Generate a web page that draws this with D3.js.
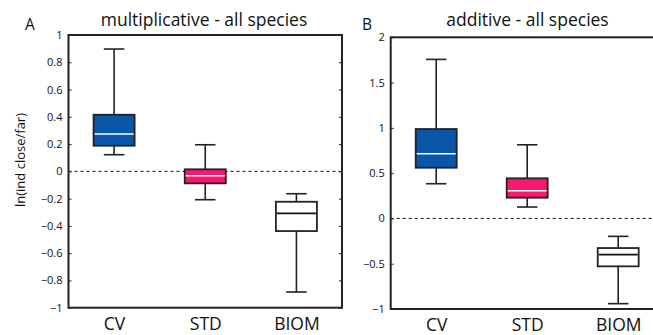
<!DOCTYPE html>
<html><head><meta charset="utf-8">
<script src="https://cdn.jsdelivr.net/npm/d3@7"></script>
<style>
html,body{margin:0;padding:0;background:#fff;overflow:hidden}
text{font-family:"Open Sans",sans-serif;fill:#111}
</style></head>
<body><svg id="c" width="653" height="335"></svg>
<script>
const categories = ["CV","STD","BIOM"];
const boxColors = ["#0a56a8","#f7186f","#ffffff"];
const medianColors = ["#ffffff","#ffffff","#111111"];
// [whiskerLow, q1, median, q3, whiskerHigh]
const multiplicative = [
  [0.122, 0.188, 0.274, 0.415, 0.897],
  [-0.208, -0.088, -0.032, 0.015, 0.195],
  [-0.885, -0.438, -0.308, -0.223, -0.164]
];
const additive = [
  [0.383, 0.56, 0.714, 0.987, 1.756],
  [0.126, 0.229, 0.306, 0.443, 0.813],
  [-0.941, -0.529, -0.4, -0.327, -0.198]
];
const ticksA = [-1,-0.8,-0.6,-0.4,-0.2,0,0.2,0.4,0.6,0.8,1];
const ticksB = [-1,-0.5,0,0.5,1,1.5,2];
const titles = ["multiplicative - all species","additive - all species"];
const panelLetters = ["A","B"];
const yLabel = "ln(ind close/far)";

const svg = d3.select("#c");
const fmt = v => (v<0?"\u2212":"") + String(Math.abs(v));

function panel(cfg){
  const g = svg.append("g");
  const x = d3.scaleLinear().domain([0.5,3.5]).range([cfg.x0,cfg.x1]);
  const y = d3.scaleLinear().domain(cfg.domain).range([cfg.y1,cfg.y0]);
  const bw = x(1.225)-x(1);
  g.append("line").attr("x1",cfg.x0).attr("x2",cfg.x1).attr("y1",y(0)).attr("y2",y(0))
    .attr("stroke","#111").attr("stroke-width",1).attr("stroke-dasharray","3,3");
  cfg.data.forEach((d,i)=>{
    const cx = x(i+1);
    const bg = g.append("g");
    bg.append("line").attr("x1",cx).attr("x2",cx).attr("y1",y(d[0])).attr("y2",y(d[1])).attr("stroke","#222").attr("stroke-width",1.6);
    bg.append("line").attr("x1",cx).attr("x2",cx).attr("y1",y(d[3])).attr("y2",y(d[4])).attr("stroke","#222").attr("stroke-width",1.6);
    [d[0],d[4]].forEach(v=>bg.append("line").attr("x1",cx-bw/2).attr("x2",cx+bw/2).attr("y1",y(v)).attr("y2",y(v)).attr("stroke","#222").attr("stroke-width",1.6));
    bg.append("rect").attr("x",cx-bw).attr("width",2*bw).attr("y",y(d[3])).attr("height",y(d[1])-y(d[3]))
      .attr("fill",boxColors[i]).attr("stroke","#222").attr("stroke-width",1.8);
    bg.append("line").attr("x1",cx-bw+1).attr("x2",cx+bw-1).attr("y1",y(d[2])).attr("y2",y(d[2])).attr("stroke",medianColors[i]).attr("stroke-width",1.6);
  });
  const axL = d3.axisLeft(y).tickValues(cfg.ticks).tickFormat(fmt).tickSize(-3).tickPadding(6);
  const gl = g.append("g").attr("transform",`translate(${cfg.x0},0)`).call(axL);
  gl.select(".domain").remove();
  gl.selectAll("line").attr("stroke","#222");
  gl.selectAll("text").attr("font-size",11).attr("fill","#111");
  const axR = d3.axisRight(y).tickValues(cfg.ticks).tickFormat("").tickSize(-3);
  const gr = g.append("g").attr("transform",`translate(${cfg.x1},0)`).call(axR);
  gr.select(".domain").remove();
  gr.selectAll("line").attr("stroke","#222");
  const axB = d3.axisBottom(x).tickValues([1,2,3]).tickFormat((v)=>categories[v-1]).tickSize(0).tickPadding(10);
  const gb = g.append("g").attr("transform",`translate(0,${cfg.y1})`).call(axB);
  gb.select(".domain").remove();
  gb.selectAll("text").attr("font-size",17.5).attr("fill","#111");
  g.append("rect").attr("x",cfg.x0).attr("y",cfg.y0).attr("width",cfg.x1-cfg.x0).attr("height",cfg.y1-cfg.y0)
    .attr("fill","none").attr("stroke","#222").attr("stroke-width",2);
  g.append("text").attr("x",cfg.titleX).attr("y",26).attr("text-anchor","middle").attr("font-size",17.5).text(cfg.title);
  g.append("text").attr("x",cfg.letterX).attr("y",30).attr("font-size",15.5).text(cfg.letter);
}

panel({x0:68.5,x1:342,y0:35,y1:307.7,domain:[-1,1],ticks:ticksA,data:multiplicative,title:titles[0],letter:panelLetters[0],titleX:204,letterX:25});
panel({x0:390.7,x1:663.7,y0:37.3,y1:309,domain:[-1,2],ticks:ticksB,data:additive,title:titles[1],letter:panelLetters[1],titleX:527.5,letterX:362});
svg.append("text").attr("transform","translate(25,160) rotate(-90)").attr("text-anchor","middle").attr("font-size",13).text(yLabel);
</script></body></html>
